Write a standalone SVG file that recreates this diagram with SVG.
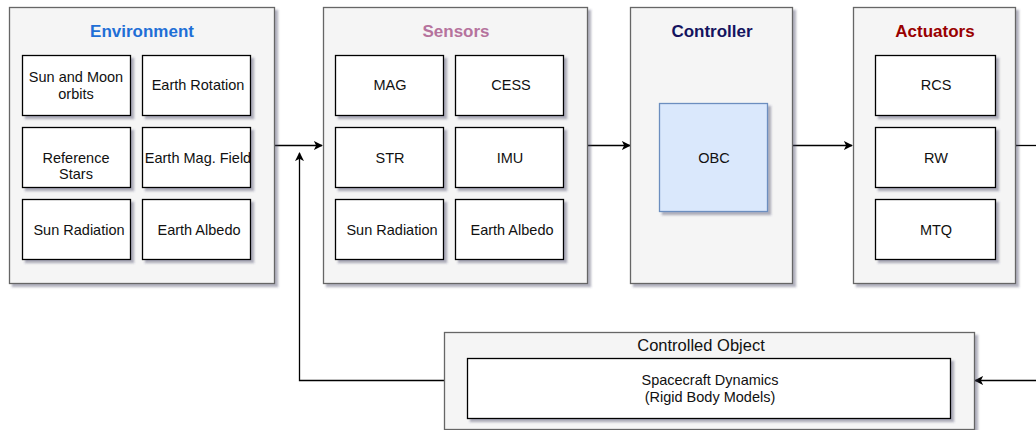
<svg xmlns="http://www.w3.org/2000/svg" width="1036" height="430" viewBox="0 0 1036 430">
<defs>
<filter id="sh" x="-10%" y="-10%" width="130%" height="130%">
<feDropShadow dx="3" dy="3" stdDeviation="1.2" flood-color="#404060" flood-opacity="0.4"/>
</filter>
<marker id="arr" viewBox="0 0 10 10" refX="9" refY="5" markerWidth="9" markerHeight="9" markerUnits="userSpaceOnUse" orient="auto">
<path d="M0,0 L10,5 L0,10 L2.5,5 Z" fill="#000"/>
</marker>
<style>
.cont{fill:#f5f5f5;stroke:#666;stroke-width:1.3;filter:url(#sh)}
.box{fill:#fff;stroke:#000;stroke-width:1.3;filter:url(#sh)}
.obc{fill:#dae8fc;stroke:#6c8ebf;stroke-width:1.3;filter:url(#sh)}
.hd{font-family:"Liberation Sans",Arial,sans-serif;font-size:17px;font-weight:bold;text-anchor:middle}
.t{font-family:"Liberation Sans",Arial,sans-serif;font-size:14.5px;text-anchor:middle;fill:#111}
.ct{font-family:"Liberation Sans",Arial,sans-serif;font-size:16.5px;text-anchor:middle;fill:#111}
.ln{fill:none;stroke:#000;stroke-width:1.3}
</style>
</defs>

<g id="connectors">
<path class="ln" d="M275,145.5 H322" marker-end="url(#arr)"/>
<path class="ln" d="M444,380.5 H299.5 V153" marker-end="url(#arr)"/>
<path class="ln" d="M588,145.5 H630" marker-end="url(#arr)"/>
<path class="ln" d="M793,145.5 H852" marker-end="url(#arr)"/>
<path class="ln" d="M1016,145.5 H1036"/>
<path class="ln" d="M1036,380.5 H975" marker-end="url(#arr)"/>
</g>

<g id="environment">
<rect class="cont" x="9.5" y="7.5" width="265" height="276"/>
<text class="hd" x="142" y="37" fill="#1f6fd6">Environment</text>
<g id="env-sunmoon"><rect class="box" x="22.5" y="55.5" width="108" height="60"/>
<text class="t" x="76" y="82">Sun and Moon</text><text class="t" x="76" y="99">orbits</text></g>
<g id="env-rotation"><rect class="box" x="142.5" y="55.5" width="108" height="60"/>
<text class="t" x="198" y="90">Earth Rotation</text></g>
<g id="env-stars"><rect class="box" x="22.5" y="127.5" width="108" height="60"/>
<text class="t" x="76" y="163">Reference</text><text class="t" x="76" y="179">Stars</text></g>
<g id="env-magfield"><rect class="box" x="142.5" y="127.5" width="108" height="60"/>
<text class="t" x="198" y="163">Earth Mag. Field</text></g>
<g id="env-sunrad"><rect class="box" x="22.5" y="199.5" width="108" height="60"/>
<text class="t" x="79" y="235">Sun Radiation</text></g>
<g id="env-albedo"><rect class="box" x="142.5" y="199.5" width="108" height="60"/>
<text class="t" x="199" y="235">Earth Albedo</text></g>
</g>

<g id="sensors">
<rect class="cont" x="323.5" y="7.5" width="264" height="276"/>
<text class="hd" x="456" y="37" fill="#b5739d">Sensors</text>
<g id="sen-mag"><rect class="box" x="335.5" y="55.5" width="108" height="60"/>
<text class="t" x="390" y="90">MAG</text></g>
<g id="sen-cess"><rect class="box" x="455.5" y="55.5" width="108" height="60"/>
<text class="t" x="511" y="90">CESS</text></g>
<g id="sen-str"><rect class="box" x="335.5" y="127.5" width="108" height="60"/>
<text class="t" x="390" y="163">STR</text></g>
<g id="sen-imu"><rect class="box" x="455.5" y="127.5" width="108" height="60"/>
<text class="t" x="510" y="163">IMU</text></g>
<g id="sen-sunrad"><rect class="box" x="335.5" y="199.5" width="108" height="60"/>
<text class="t" x="392" y="235">Sun Radiation</text></g>
<g id="sen-albedo"><rect class="box" x="455.5" y="199.5" width="108" height="60"/>
<text class="t" x="512" y="235">Earth Albedo</text></g>
</g>

<g id="controller">
<rect class="cont" x="630.5" y="7.5" width="162" height="276"/>
<text class="hd" x="712" y="37" fill="#14145f">Controller</text>
<g id="obc"><rect class="obc" x="659.5" y="103.5" width="108" height="108"/>
<text class="t" x="714" y="163">OBC</text></g>
</g>

<g id="actuators">
<rect class="cont" x="853.5" y="7.5" width="162" height="276"/>
<text class="hd" x="935" y="37" fill="#990000">Actuators</text>
<g id="act-rcs"><rect class="box" x="875.5" y="55.5" width="120" height="60"/>
<text class="t" x="936" y="90">RCS</text></g>
<g id="act-rw"><rect class="box" x="875.5" y="127.5" width="120" height="60"/>
<text class="t" x="936" y="163">RW</text></g>
<g id="act-mtq"><rect class="box" x="875.5" y="199.5" width="120" height="60"/>
<text class="t" x="936" y="235">MTQ</text></g>
</g>

<g id="controlled-object">
<rect class="cont" x="444.5" y="332.5" width="530" height="97"/>
<text class="ct" x="701" y="351">Controlled Object</text>
<g id="dynamics"><rect class="box" x="467.5" y="358.5" width="483" height="60"/>
<text class="t" x="710" y="385">Spacecraft Dynamics</text>
<text class="t" x="710" y="402">(Rigid Body Models)</text></g>
</g>
</svg>
